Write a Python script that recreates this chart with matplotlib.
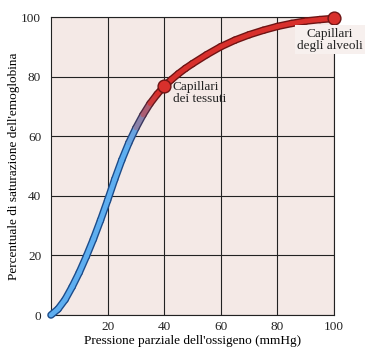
import matplotlib.pyplot as plt
from matplotlib.collections import LineCollection
from matplotlib.colors import to_rgb
import numpy as np

# pressione parziale O2 (mmHg) e saturazione (%)
pressione = [0, 2.5, 5, 7.5, 10, 12.5, 15, 17.5, 20, 22.5, 25, 27.5, 30,
             32.5, 35, 37.5, 40, 42.5, 45, 47.5, 50, 55, 60, 65, 70, 75,
             80, 85, 90, 95, 100]
saturazione = [0, 2, 5.2, 9.5, 14.3, 19.7, 25.5, 31.8, 38.5, 45.5, 52,
               57.8, 62.8, 67.2, 71, 74.1, 76.8, 79, 81, 82.8, 84.4, 87.4,
               90.1, 92.3, 94.1, 95.6, 96.9, 97.9, 98.7, 99.2, 99.6]

punti_x = [40, 100]
punti_y = [76.8, 99.6]
etichette = ["Capillari\ndei tessuti", "Capillari\ndegli alveoli"]

plt.rcParams['font.family'] = ['Liberation Serif', 'DejaVu Serif']

fig = plt.figure(figsize=(3.72, 3.58), dpi=100)
ax = fig.add_axes([0.137, 0.120, 0.761, 0.832])
ax.set_facecolor('#f4e9e6')

ax.set_xlim(0, 100)
ax.set_ylim(0, 100)
ax.set_xticks([20, 40, 60, 80, 100])
ax.set_yticks([0, 20, 40, 60, 80, 100])
ax.tick_params(length=0, labelsize=9.5, colors='#222222')
ax.tick_params(axis='x', pad=4)
ax.tick_params(axis='y', pad=7)
ax.grid(True, color='#222222', lw=0.8)
ax.set_axisbelow(True)
for s in ax.spines.values():
    s.set_color('#222222')
    s.set_linewidth(0.8)

# colori: blu chiaro -> rosso, contorno scuro
blu = np.array(to_rgb('#5eaef0'))
rosso = np.array(to_rgb('#d8302c'))
blu_scuro = np.array(to_rgb('#1c4c8a'))
rosso_scuro = np.array(to_rgb('#6e1414'))

xs = np.array(pressione, dtype=float)
ys = np.array(saturazione, dtype=float)
segs = [[(xs[i], ys[i]), (xs[i + 1], ys[i + 1])] for i in range(len(xs) - 1)]
cols, bordi = [], []
for i in range(len(xs) - 1):
    m = (xs[i] + xs[i + 1]) / 2
    t = np.clip((m - 28) / 9, 0, 1)
    cols.append(blu * (1 - t) + rosso * t)
    bordi.append(blu_scuro * (1 - t) + rosso_scuro * t)

ax.add_collection(LineCollection(segs, colors=bordi, linewidths=5.4,
                                 capstyle='round', joinstyle='round',
                                 zorder=3, clip_on=False))
ax.add_collection(LineCollection(segs, colors=cols, linewidths=3.4,
                                 capstyle='round', joinstyle='round',
                                 zorder=4, clip_on=False))

ax.scatter(punti_x, punti_y, s=85, color='#d8302c', edgecolor='#6e1414',
           linewidth=1.0, zorder=5, clip_on=False)

ax.text(43, 78.5, etichette[0], ha='left', va='top', fontsize=9.5,
        linespacing=1.0, color='#222222')
ax.text(98.6, 96.5, etichette[1], ha='center', va='top', fontsize=9.5,
        linespacing=1.0, color='#222222', clip_on=False, zorder=6,
        bbox=dict(facecolor='#f7f0ee', edgecolor='none', pad=1.5))

ax.set_xlabel("Pressione parziale dell'ossigeno (mmHg)", fontsize=9.5,
              labelpad=2)
ax.set_ylabel("Percentuale di saturazione dell'emoglobina", fontsize=9.5)
ax.yaxis.set_label_coords(-0.11, 0.5)

fig.savefig('out.png', dpi=100)
